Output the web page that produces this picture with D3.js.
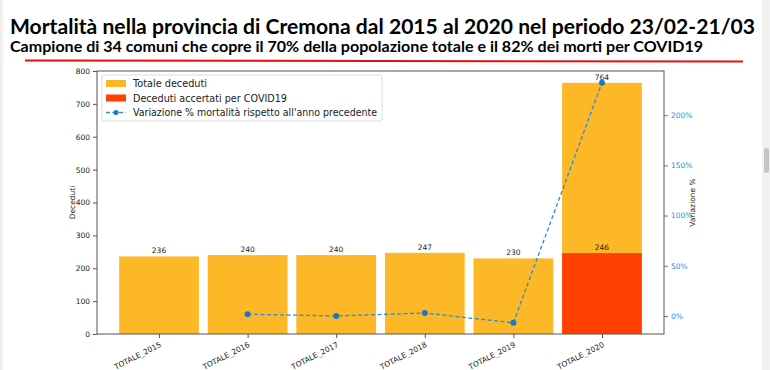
<!DOCTYPE html>
<html>
<head>
<meta charset="utf-8">
<script src="https://cdn.jsdelivr.net/npm/d3@7"></script>
<style>
  body { margin: 0; background: #fff; }
  svg { display: block; }
</style>
</head>
<body>
<svg id="chart" width="770" height="370"></svg>
<script>
const categories = ["TOTALE_2015", "TOTALE_2016", "TOTALE_2017", "TOTALE_2018", "TOTALE_2019", "TOTALE_2020"];
const totalDeaths = [236, 240, 240, 247, 230, 764];
const covidDeaths = [null, null, null, null, null, 246];
const variation = [null, 1.7, 0.0, 2.9, -6.9, 232.2];
const leftTicks = [0, 100, 200, 300, 400, 500, 600, 700, 800];
const rightTicks = [0, 50, 100, 150, 200];
const legendLabels = ["Totale deceduti", "Deceduti accertati per COVID19", "Variazione % mortalità rispetto all'anno precedente"];
const legendWidths = [74, 154, 244];

const orange = "#fdb827";
const red = "#ff4000";
const blue = "#2b8cd6";

const svg = d3.select("#chart");
const margin = { top: 71, right: 106, bottom: 36, left: 97 };
const width = 770 - margin.left - margin.right;
const height = 370 - margin.top - margin.bottom;

// page header
const headFont = "Lato, 'Open Sans', sans-serif";
svg.append("text")
    .attr("x", 10).attr("y", 34)
    .attr("textLength", 745).attr("lengthAdjust", "spacingAndGlyphs")
    .style("font-family", headFont).style("font-size", "20px").style("font-weight", "bold")
    .text("Mortalità nella provincia di Cremona dal 2015 al 2020 nel periodo 23/02-21/03");
svg.append("text")
    .attr("x", 10).attr("y", 52)
    .attr("textLength", 693).attr("lengthAdjust", "spacingAndGlyphs")
    .style("font-family", headFont).style("font-size", "15px").style("font-weight", "bold")
    .text("Campione di 34 comuni che copre il 70% della popolazione totale e il 82% dei morti per COVID19");
svg.append("line")
    .attr("x1", 25).attr("x2", 743).attr("y1", 60.5).attr("y2", 61.5)
    .attr("stroke", "#e01010").attr("stroke-width", 2);

// browser frame edges and scrollbar strip
svg.append("rect").attr("x", 0).attr("y", 0).attr("width", 3).attr("height", 370).attr("fill", "#f1f1f1");
svg.append("rect").attr("x", 762).attr("y", 0).attr("width", 8).attr("height", 370).attr("fill", "#f1f1f1");
svg.append("rect").attr("x", 764).attr("y", 148).attr("width", 5).attr("height", 25).attr("rx", 2.5).attr("fill", "#c4c4c4");

const g = svg.append("g").attr("transform", `translate(${margin.left},${margin.top})`);

const x = d3.scalePoint().domain(categories).range([0, width]).padding(0.7);
const barW = x.step() * 0.9;
const y = d3.scaleLinear().domain([0, 800]).range([height, 0]);
const y2 = d3.scaleLinear().domain([-18, 244]).range([height, 0]);

const bars = categories.map((c, i) => ({ c, total: totalDeaths[i], covid: covidDeaths[i], v: variation[i] }));

g.selectAll(".bar")
    .data(bars)
    .enter().append("rect")
    .attr("class", "bar")
    .attr("x", d => x(d.c) - barW / 2)
    .attr("width", barW)
    .attr("y", d => y(d.total))
    .attr("height", d => height - y(d.total))
    .attr("fill", orange);

g.selectAll(".covid")
    .data(bars.filter(d => d.covid != null))
    .enter().append("rect")
    .attr("class", "covid")
    .attr("x", d => x(d.c) - barW / 2)
    .attr("width", barW)
    .attr("y", d => y(d.covid))
    .attr("height", d => height - y(d.covid))
    .attr("fill", red);

const labelFont = "'DejaVu Sans', sans-serif";

g.selectAll(".val")
    .data(bars)
    .enter().append("text")
    .attr("x", d => x(d.c))
    .attr("y", d => y(d.total) - 3)
    .attr("text-anchor", "middle")
    .style("font-family", labelFont).style("font-size", "7.5px").attr("fill", "#222")
    .text(d => d.total);

g.selectAll(".cval")
    .data(bars.filter(d => d.covid != null))
    .enter().append("text")
    .attr("x", d => x(d.c))
    .attr("y", d => y(d.covid) - 3)
    .attr("text-anchor", "middle")
    .style("font-family", labelFont).style("font-size", "7.5px").attr("fill", "#222")
    .text(d => d.covid);

// variation line
const pts = bars.filter(d => d.v != null);
const line = d3.line().x(d => x(d.c)).y(d => y2(d.v));
g.append("path")
    .datum(pts)
    .attr("d", line)
    .attr("fill", "none")
    .attr("stroke", blue)
    .attr("stroke-width", 1.3)
    .attr("stroke-dasharray", "4,2.5");
g.selectAll(".pt")
    .data(pts)
    .enter().append("circle")
    .attr("cx", d => x(d.c))
    .attr("cy", d => y2(d.v))
    .attr("r", 3)
    .attr("fill", "#1f77c4");

// axes
const axisColor = "#555";
const xAxis = g.append("g")
    .attr("transform", `translate(0,${height})`)
    .call(d3.axisBottom(x).tickSize(4));
xAxis.selectAll("text")
    .attr("x", 0).attr("y", 0).attr("dy", "0.35em")
    .attr("text-anchor", "end")
    .attr("transform", "translate(1,10) rotate(-27)")
    .style("font-family", labelFont).style("font-size", "7.5px").attr("fill", "#222");

const yAxis = g.append("g")
    .call(d3.axisLeft(y).tickValues(leftTicks).tickSize(4).tickPadding(3));
yAxis.selectAll("text").style("font-family", labelFont).style("font-size", "7.5px").attr("fill", "#222");

const y2Axis = g.append("g")
    .attr("transform", `translate(${width},0)`)
    .call(d3.axisRight(y2).tickValues(rightTicks).tickSize(4).tickPadding(3).tickFormat(d => d + "%"));
y2Axis.selectAll("text").style("font-family", labelFont).style("font-size", "7.5px").attr("fill", blue);
y2Axis.selectAll("line").attr("stroke", blue);

[xAxis, yAxis, y2Axis].forEach(a => a.select(".domain").remove());
xAxis.selectAll("line").attr("stroke", axisColor);
yAxis.selectAll("line").attr("stroke", axisColor);

g.append("rect")
    .attr("width", width).attr("height", height)
    .attr("fill", "none").attr("stroke", axisColor).attr("stroke-width", 1);

g.append("text")
    .attr("transform", `translate(-22,${height / 2}) rotate(-90)`)
    .attr("text-anchor", "middle")
    .style("font-family", labelFont).style("font-size", "7.5px").attr("fill", "#222")
    .text("Deceduti");
g.append("text")
    .attr("transform", `translate(${width + 31},${height / 2}) rotate(-90)`)
    .attr("text-anchor", "middle")
    .style("font-family", labelFont).style("font-size", "7.5px").attr("fill", "#222")
    .text("Variazione %");

// legend
const legend = g.append("g").attr("transform", "translate(5,4)");
legend.append("rect")
    .attr("width", 280).attr("height", 46).attr("rx", 2)
    .attr("fill", "#fff").attr("fill-opacity", 0.8).attr("stroke", "#ddd");
legendLabels.forEach((label, i) => {
    const row = legend.append("g").attr("transform", `translate(4,${8 + i * 14.5})`);
    if (i < 2) {
        row.append("rect").attr("x", 0).attr("y", -3).attr("width", 20).attr("height", 7)
            .attr("fill", i === 0 ? orange : red);
    } else {
        row.append("line").attr("x1", 0).attr("x2", 20).attr("y1", 0.5).attr("y2", 0.5)
            .attr("stroke", blue).attr("stroke-width", 1.3).attr("stroke-dasharray", "4,2.5");
        row.append("circle").attr("cx", 10).attr("cy", 0.5).attr("r", 2.5).attr("fill", "#1f77c4");
    }
    row.append("text")
        .attr("x", 27).attr("y", 4)
        .attr("textLength", legendWidths[i]).attr("lengthAdjust", "spacingAndGlyphs")
        .style("font-family", labelFont).style("font-size", "10px").attr("fill", "#222")
        .text(label);
});
</script>
</body>
</html>
